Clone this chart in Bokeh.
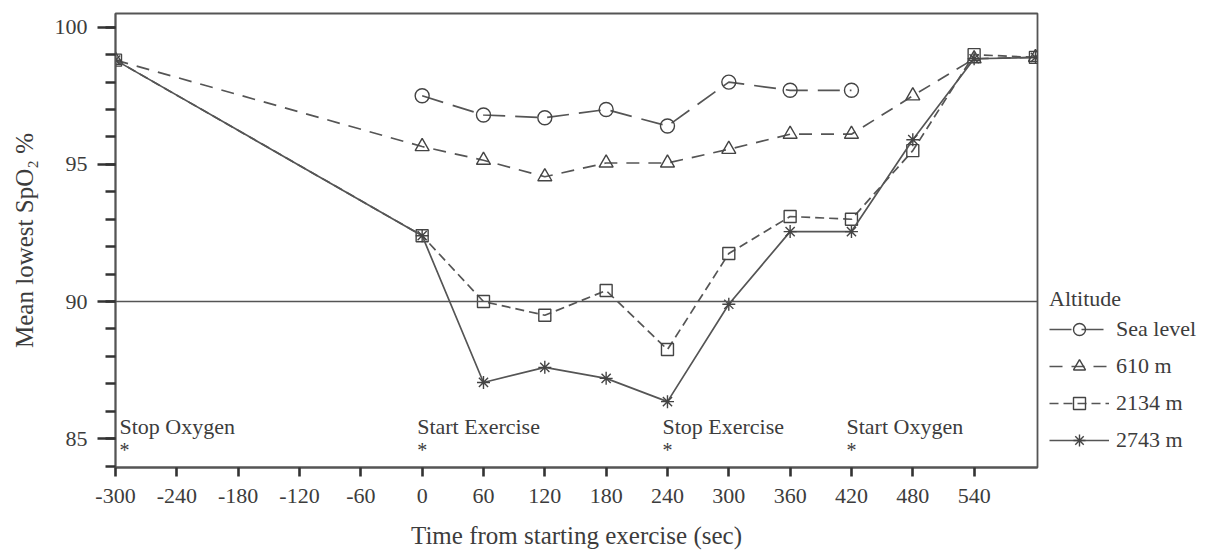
from bokeh.plotting import figure
from bokeh.models import (Range1d, FixedTicker, SingleIntervalTicker, Span,
                          Legend, LegendItem, ColumnDataSource)
from bokeh.core.properties import value
from bokeh.embed import file_html
from bokeh.resources import INLINE

# Time axis (seconds from the start of exercise)
time_sea = [0, 60, 120, 180, 240, 300, 360, 420]
time_alt = [-300, 0, 60, 120, 180, 240, 300, 360, 420, 480, 540, 600]

# Mean lowest SpO2 (%) by altitude
spo2_sea = [97.5, 96.8, 96.7, 97.0, 96.4, 98.0, 97.7, 97.7]
spo2_610 = [98.8, 95.65, 95.15, 94.55, 95.05, 95.05, 95.55, 96.1, 96.1, 97.5, 98.85, 98.9]
spo2_2134 = [98.8, 92.4, 90.0, 89.5, 90.4, 88.25, 91.75, 93.1, 93.0, 95.5, 99.0, 98.9]
spo2_2743 = [98.8, 92.4, 87.05, 87.6, 87.2, 86.35, 89.9, 92.55, 92.55, 95.9, 98.85, 98.9]

series_names = ["Sea level", "610 m", "2134 m", "2743 m"]

# Protocol events
event_times = [-300, 0, 240, 420]
event_labels = ["Stop Oxygen", "Start Exercise", "Stop Exercise", "Start Oxygen"]

# Axis ticks
x_ticks = [-300, -240, -180, -120, -60, 0, 60, 120, 180, 240, 300, 360, 420, 480, 540]
x_tick_labels = ["-300", "-240", "-180", "-120", "-60", "0", "60", "120", "180",
                 "240", "300", "360", "420", "480", "540"]
threshold = 90

FONT = "Liberation Serif"
INK = "#3c3c3c"
LINE = "#555555"

p = figure(frame_width=922, frame_height=454, output_backend="svg",
           toolbar_location=None,
           x_range=Range1d(-300, 602), y_range=Range1d(83.95, 100.5),
           min_border_left=115, min_border_right=0, min_border_top=13,
           min_border_bottom=84)
p.background_fill_color = "white"
p.border_fill_color = "white"
p.grid.visible = False
p.outline_line_color = LINE
p.outline_line_width = 1.8

# axes
xa = p.xaxis[0]
xa.ticker = FixedTicker(ticks=x_ticks)
xa.major_label_overrides = {t: s for t, s in zip(x_ticks, x_tick_labels)}
xa.axis_label = "Time from starting exercise (sec)"
xa.major_tick_out = 9
xa.major_tick_in = 0
xa.minor_tick_out = 0
xa.major_label_standoff = 12
xa.axis_label_standoff = 16

ya = p.yaxis[0]
ya.ticker = SingleIntervalTicker(interval=5, num_minor_ticks=5)
ya.axis_label = "Mean lowest SpO\u2082 %"
ya.major_tick_out = 18
ya.major_tick_in = 0
ya.minor_tick_out = 10
ya.minor_tick_in = 0
ya.major_label_standoff = 10
ya.axis_label_standoff = 14
ya.major_label_orientation = "horizontal"

for ax in (xa, ya):
    ax.axis_line_color = LINE
    ax.axis_line_width = 1.8
    ax.major_tick_line_color = "#333333"
    ax.major_tick_line_width = 2.6
    ax.minor_tick_line_color = "#333333"
    ax.minor_tick_line_width = 2.6
    ax.major_label_text_font = FONT
    ax.major_label_text_font_size = "22px"
    ax.major_label_text_color = INK
    ax.axis_label_text_font = FONT
    ax.axis_label_text_font_size = "25px"
    ax.axis_label_text_font_style = "normal"
    ax.axis_label_text_color = INK

# 90 % reference line
p.add_layout(Span(location=threshold, dimension="width", line_color=LINE,
                  line_width=1.6))

styles = [
    dict(x=time_sea, y=spo2_sea, dash="22 10", marker="circle", size=14),
    dict(x=time_alt, y=spo2_610, dash="13 9", marker="triangle", size=14),
    dict(x=time_alt, y=spo2_2134, dash="9 5", marker="square", size=12),
    dict(x=time_alt, y=spo2_2743, dash="solid", marker="asterisk", size=13),
]

items = []
for name, st in zip(series_names, styles):
    src = ColumnDataSource(dict(x=st["x"], y=st["y"]))
    lr = p.line("x", "y", source=src, line_color=LINE, line_width=1.7,
                line_dash=st["dash"])
    mr = p.scatter("x", "y", source=src, marker=st["marker"], size=st["size"],
                   line_color="#444444", line_width=1.4, fill_alpha=0)
    items.append(LegendItem(label=name, renderers=[lr, mr]))

# event annotations
star_offsets = [9 if t == p.x_range.start else 0 for t in event_times]
label_offsets = [o - 5 for o in star_offsets]
p.text(x=event_times, y=[85.45] * len(event_times), text=event_labels,
       x_offset=label_offsets, text_align="left", text_baseline="alphabetic",
       text_font=value(FONT), text_font_size="22px", text_color=INK)
p.text(x=event_times, y=[84.57] * len(event_times), text=["*"] * len(event_times),
       x_offset=star_offsets, text_align="center", text_baseline="alphabetic",
       text_font=value(FONT), text_font_size="20px", text_color=INK)

legend = Legend(items=items, location="bottom_left", title="Altitude",
                title_text_font=FONT, title_text_font_size="22px",
                title_text_font_style="normal", title_text_color=INK,
                title_standoff=2,
                label_text_font=FONT, label_text_font_size="22px",
                label_text_color=INK, glyph_width=60, glyph_height=30,
                label_standoff=7, spacing=7, padding=0, margin=12,
                background_fill_alpha=0, border_line_alpha=0)
p.add_layout(legend, "right")

open("out.html", "w").write(file_html(p, INLINE))
